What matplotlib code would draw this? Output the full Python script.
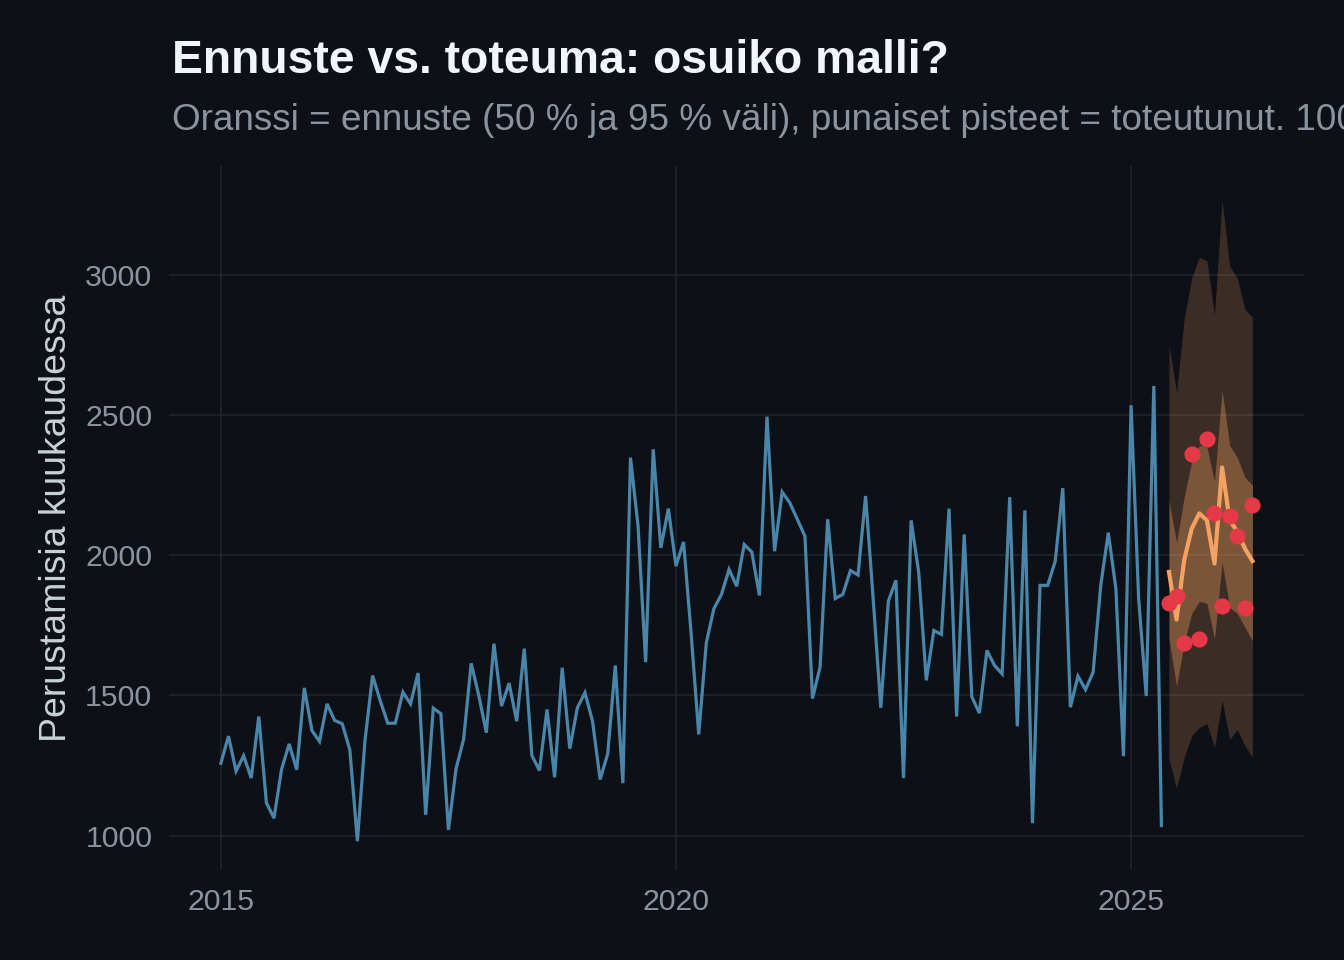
import numpy as np
import matplotlib.pyplot as plt

# monthly series, Jan 2015 .. May 2025
history = [
    1258, 1355, 1230, 1285, 1205, 1425, 1117, 1062, 1236, 1327, 1235, 1527,
    1375, 1336, 1470, 1411, 1399, 1306, 980, 1339, 1571, 1482, 1401, 1401,
    1512, 1470, 1580, 1074, 1455, 1435, 1020, 1238, 1343, 1615, 1500, 1367,
    1685, 1462, 1544, 1408, 1667, 1286, 1232, 1450, 1208, 1599, 1310, 1456,
    1510, 1408, 1200, 1292, 1607, 1187, 2349, 2105, 1619, 2379, 2027, 2167,
    1962, 2048, 1720, 1361, 1688, 1810, 1861, 1950, 1890, 2039, 2012, 1857,
    2495, 2015, 2226, 2188, 2129, 2069, 1489, 1602, 2129, 1846, 1861, 1946,
    1930, 2212, 1845, 1456, 1837, 1911, 1205, 2125, 1940, 1554, 1732, 1718,
    2167, 1425, 2075, 1496, 1437, 1661, 1607, 1577, 2208, 1390, 2161, 1044,
    1893, 1893, 1979, 2240, 1458, 1569, 1521, 1583, 1893, 2081, 1881, 1283,
    2536, 1845, 1498, 2605, 1036,
]

# forecast, Jun 2025 .. May 2026
fc_median = [1941, 1771, 1983, 2096, 2150, 2125, 1971, 2314, 2125, 2086, 2025, 1980]
fc_lo50 = [1702, 1533, 1688, 1793, 1836, 1829, 1702, 1976, 1814, 1793, 1744, 1695]
fc_hi50 = [2195, 2046, 2208, 2336, 2393, 2386, 2265, 2589, 2393, 2350, 2279, 2251]
fc_lo95 = [1272, 1168, 1279, 1357, 1386, 1400, 1314, 1484, 1343, 1379, 1321, 1279]
fc_hi95 = [2750, 2582, 2843, 2990, 3065, 3051, 2857, 3268, 3032, 2990, 2879, 2850]
actual = [1829, 1854, 1688, 2361, 1700, 2414, 2150, 1818, 2141, 2068, 1814, 2180]

start_year = 2015
x_hist = start_year + np.arange(len(history)) / 12
x_fc = start_year + (len(history) + np.arange(len(fc_median))) / 12

bg = '#0d1117'
grid_col = '#21262d'
tick_col = '#8b949e'
plt.rcParams['font.family'] = ['Liberation Sans', 'DejaVu Sans']

fig = plt.figure(figsize=(13.44, 9.6), dpi=100, facecolor=bg)
ax = fig.add_axes([169/1344, 1 - 870/960, (1304-169)/1344, (870-166)/960])
ax.set_facecolor(bg)

ax.fill_between(x_fc, fc_lo95, fc_hi95, color='#f4a261', alpha=0.2, lw=0)
ax.fill_between(x_fc, fc_lo50, fc_hi50, color='#f4a261', alpha=0.35, lw=0)
ax.plot(x_hist, history, color='#4a86aa', lw=2.3, solid_joinstyle='miter')
ax.plot(x_fc, fc_median, color='#f4a261', lw=3)
ax.scatter(x_fc, actual, s=135, color='#e63946', zorder=5, lw=0)

ax.set_xlim(2014.43, 2026.9)
ax.set_ylim(877, 3390)
ax.set_xticks([2015, 2020, 2025])
ax.set_yticks([1000, 1500, 2000, 2500, 3000])
ax.grid(True, color=grid_col, lw=1.1)
ax.set_axisbelow(True)
for s in ax.spines.values():
    s.set_visible(False)
ax.tick_params(length=0, colors=tick_col, labelsize=21.8)
ax.tick_params(axis='y', pad=12)
ax.tick_params(axis='x', pad=13)
ax.set_ylabel('Perustamisia kuukaudessa', color='#c9d1d9', fontsize=26.9, labelpad=8)

fig.text(172/1344, 1 - 73/960, 'Ennuste vs. toteuma: osuiko malli?',
         color='#f0f6fc', fontsize=33.3, fontweight='bold', va='baseline')
fig.text(172/1344, 1 - 130/960,
         'Oranssi = ennuste (50 % ja 95 % väli), punaiset pisteet = toteutunut. '
         '100 % toteumista 95 % välin sisällä.',
         color=tick_col, fontsize=26.6, va='baseline')

fig.savefig('out.png', dpi=100, facecolor=bg)
